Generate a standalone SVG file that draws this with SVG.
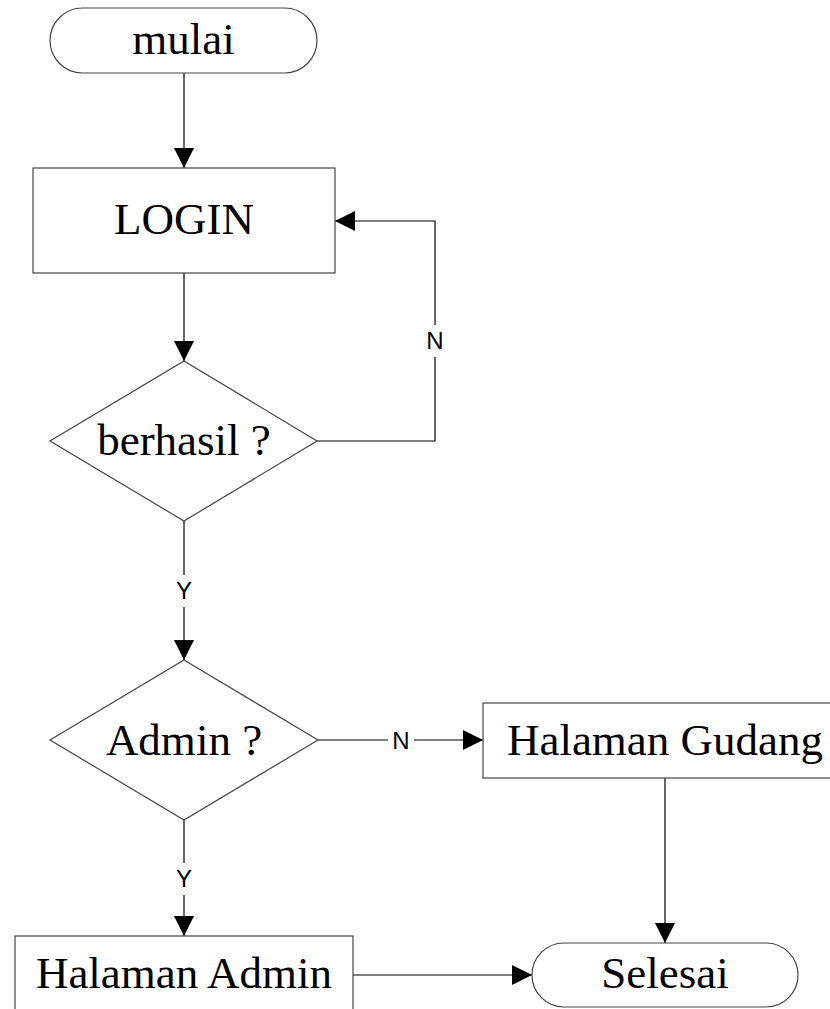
<svg xmlns="http://www.w3.org/2000/svg" width="830" height="1009" viewBox="0 0 830 1009">
<defs>
<style>
.shape{fill:#fff;stroke:#444;stroke-width:1.2}
.lbl{font-family:"Liberation Serif","Times New Roman",serif;font-size:45px;fill:#000;text-anchor:middle}
.conn{fill:none;stroke:#000;stroke-width:1.2}
.cl{font-family:"Liberation Sans",Arial,sans-serif;font-size:24px;fill:#000;text-anchor:middle}
.bg{fill:#fff;stroke:none}
</style>
<marker id="arr" markerUnits="userSpaceOnUse" markerWidth="20" markerHeight="20" refX="20" refY="10" orient="auto">
<path d="M0,0 L20,10 L0,20 z" fill="#000"/>
</marker>
</defs>
<rect width="830" height="1009" fill="#fff"/>
<g id="connectors">
<path class="conn" d="M184,73 V168" marker-end="url(#arr)"/>
<path class="conn" d="M184,273 V361" marker-end="url(#arr)"/>
<path class="conn" d="M317,441 H435 V221 H335" marker-end="url(#arr)"/>
<path class="conn" d="M184,521 V660" marker-end="url(#arr)"/>
<path class="conn" d="M318,740 H483" marker-end="url(#arr)"/>
<path class="conn" d="M184,820 V936" marker-end="url(#arr)"/>
<path class="conn" d="M353,975 H532" marker-end="url(#arr)"/>
<path class="conn" d="M665,778 V943" marker-end="url(#arr)"/>
<rect class="bg" x="424" y="325" width="22" height="32"/>
<text class="cl" x="435" y="349">N</text>
<rect class="bg" x="173" y="575" width="22" height="32"/>
<text class="cl" x="184" y="599">Y</text>
<rect class="bg" x="388" y="729" width="26" height="22"/>
<text class="cl" x="401" y="749">N</text>
<rect class="bg" x="173" y="863" width="22" height="32"/>
<text class="cl" x="184" y="887">Y</text>
</g>
<g id="mulai">
<rect class="shape" x="50" y="8" width="267" height="65" rx="32.5"/>
<text class="lbl" x="183.5" y="54">mulai</text>
</g>
<g id="login">
<rect class="shape" x="33" y="168" width="302" height="105"/>
<text class="lbl" x="184" y="234">LOGIN</text>
</g>
<g id="berhasil">
<polygon class="shape" points="184,361 317,441 184,521 50,441"/>
<text class="lbl" x="184" y="455">berhasil ?</text>
</g>
<g id="admin">
<polygon class="shape" points="184,660 318,740 184,820 50,740"/>
<text class="lbl" x="184" y="755">Admin ?</text>
</g>
<g id="gudang">
<rect class="shape" x="483" y="703" width="370" height="75"/>
<text class="lbl" x="665" y="755">Halaman Gudang</text>
</g>
<g id="halaman-admin">
<rect class="shape" x="15" y="936" width="338" height="80"/>
<text class="lbl" x="184" y="988">Halaman Admin</text>
</g>
<g id="selesai">
<rect class="shape" x="532" y="943" width="266" height="64" rx="32"/>
<text class="lbl" x="665" y="988">Selesai</text>
</g>
</svg>
